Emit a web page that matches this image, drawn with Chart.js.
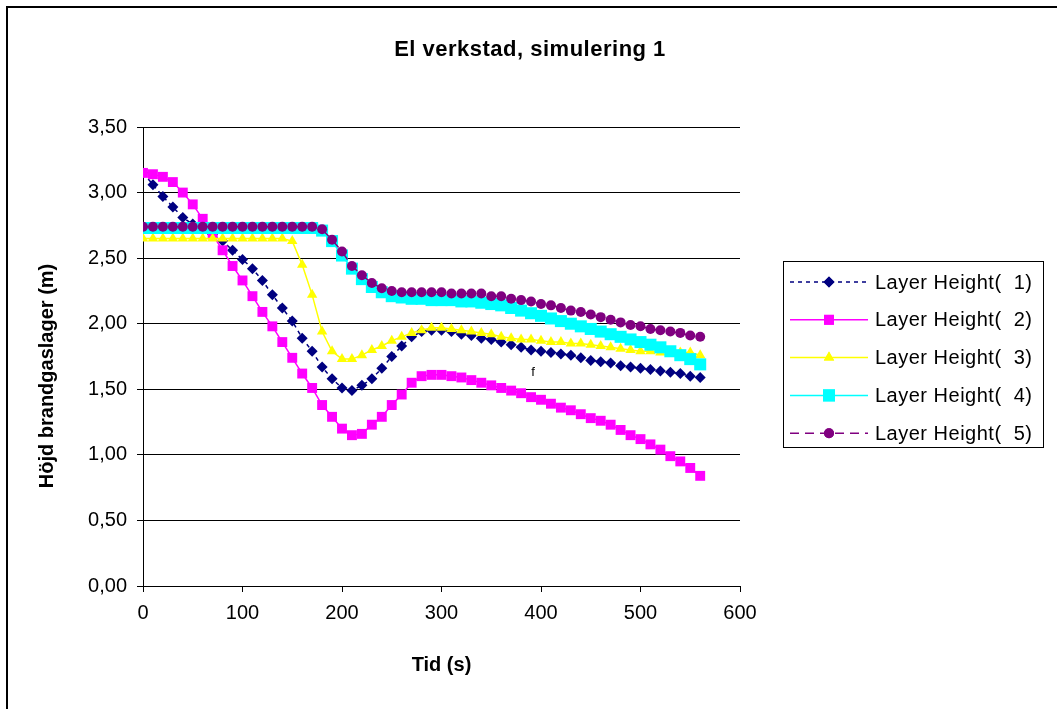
<!DOCTYPE html>
<html>
<head>
<meta charset="utf-8">
<script src="https://cdn.jsdelivr.net/npm/chart.js@4"></script>
<style>
  html, body { margin: 0; padding: 0; background: #fff; }
  #wrap { position: relative; width: 1057px; height: 709px; }
</style>
</head>
<body>
<div id="wrap"><canvas id="chart" width="1057" height="709"></canvas></div>
<script>
// Tid (s)
const times = [0, 10, 20, 30, 40, 50, 60, 70, 80, 90, 100, 110, 120, 130, 140, 150, 160, 170, 180, 190,
    200, 210, 220, 230, 240, 250, 260, 270, 280, 290, 300, 310, 320, 330, 340, 350, 360, 370, 380, 390,
    400, 410, 420, 430, 440, 450, 460, 470, 480, 490, 500, 510, 520, 530, 540, 550, 560];

const layer1 = [3.15, 3.06, 2.97, 2.89, 2.81, 2.76, 2.72, 2.68, 2.63, 2.56, 2.49, 2.42, 2.33, 2.22, 2.12, 2.02, 1.89, 1.79, 1.67, 1.58,
    1.51, 1.49, 1.53, 1.58, 1.66, 1.75, 1.83, 1.90, 1.94, 1.95, 1.95, 1.94, 1.92, 1.91, 1.89, 1.88, 1.86, 1.84, 1.82, 1.80,
    1.79, 1.78, 1.77, 1.76, 1.74, 1.72, 1.71, 1.70, 1.68, 1.67, 1.66, 1.65, 1.64, 1.63, 1.62, 1.60, 1.59];
const layer2 = [3.15, 3.14, 3.12, 3.08, 3.00, 2.91, 2.80, 2.68, 2.56, 2.44, 2.33, 2.21, 2.09, 1.98, 1.86, 1.74, 1.62, 1.51, 1.38, 1.29,
    1.20, 1.15, 1.16, 1.23, 1.29, 1.38, 1.46, 1.55, 1.60, 1.61, 1.61, 1.60, 1.59, 1.57, 1.55, 1.53, 1.51, 1.49, 1.47, 1.44,
    1.42, 1.39, 1.36, 1.34, 1.31, 1.28, 1.26, 1.23, 1.19, 1.15, 1.12, 1.08, 1.04, 0.99, 0.95, 0.90, 0.84];
const layer3 = [2.65, 2.65, 2.65, 2.65, 2.65, 2.65, 2.65, 2.65, 2.65, 2.65, 2.65, 2.65, 2.65, 2.65, 2.65, 2.63, 2.45, 2.22, 1.94, 1.79,
    1.73, 1.73, 1.76, 1.80, 1.83, 1.87, 1.90, 1.93, 1.95, 1.97, 1.97, 1.96, 1.95, 1.94, 1.93, 1.92, 1.90, 1.89, 1.88, 1.88,
    1.87, 1.86, 1.86, 1.85, 1.85, 1.84, 1.83, 1.82, 1.81, 1.80, 1.79, 1.79, 1.78, 1.78, 1.78, 1.78, 1.76];
const layer4 = [2.73, 2.73, 2.73, 2.73, 2.73, 2.73, 2.73, 2.73, 2.73, 2.73, 2.73, 2.73, 2.73, 2.73, 2.73, 2.73, 2.73, 2.73, 2.71, 2.63,
    2.52, 2.42, 2.34, 2.28, 2.24, 2.21, 2.20, 2.19, 2.19, 2.18, 2.18, 2.18, 2.17, 2.17, 2.16, 2.15, 2.14, 2.12, 2.10, 2.08,
    2.06, 2.04, 2.02, 2.00, 1.98, 1.96, 1.94, 1.92, 1.90, 1.88, 1.86, 1.84, 1.82, 1.79, 1.76, 1.73, 1.69];
const layer5 = [2.74, 2.74, 2.74, 2.74, 2.74, 2.74, 2.74, 2.74, 2.74, 2.74, 2.74, 2.74, 2.74, 2.74, 2.74, 2.74, 2.74, 2.74, 2.72, 2.64,
    2.55, 2.44, 2.37, 2.31, 2.27, 2.25, 2.24, 2.24, 2.24, 2.24, 2.24, 2.23, 2.23, 2.23, 2.23, 2.21, 2.21, 2.19, 2.18, 2.17,
    2.15, 2.14, 2.12, 2.10, 2.09, 2.07, 2.05, 2.03, 2.01, 1.99, 1.98, 1.96, 1.95, 1.94, 1.93, 1.91, 1.90];

const seriesLabels = ['Layer Height(  1)', 'Layer Height(  2)', 'Layer Height(  3)', 'Layer Height(  4)', 'Layer Height(  5)'];
const seriesValues = [layer1, layer2, layer3, layer4, layer5];

const chartTitle = 'El verkstad, simulering 1';
const xTitle = 'Tid (s)';
const yTitle = 'Höjd brandgaslager (m)';
const strayLabel = { t: 392, v: 1.63, text: 'f' };

const FONT = 'Arial, "Liberation Sans", sans-serif';

const styles = [
    { color: '#000080', pointStyle: 'rectRot', radius: 5.5, dash: [4, 4] },
    { color: '#FF00FF', pointStyle: 'rect', radius: 7, dash: [] },
    { color: '#FFFF00', pointStyle: 'triangle', radius: 6, dash: [] },
    { color: '#00FFFF', pointStyle: 'rect', radius: 8.5, dash: [] },
    { color: '#800080', pointStyle: 'circle', radius: 5, dash: [9, 6] }
];

const datasets = seriesValues.map((vals, i) => ({
    label: seriesLabels[i],
    data: vals.map((v, j) => ({ x: times[j], y: v })),
    borderColor: styles[i].color,
    backgroundColor: styles[i].color,
    borderWidth: 1.5,
    borderDash: styles[i].dash,
    pointStyle: styles[i].pointStyle,
    pointRadius: styles[i].radius,
    pointBorderWidth: 0,
    pointBackgroundColor: styles[i].color,
    tension: 0,
    order: 5 - i // Excel ritar senare serier ovanpå
}));

// Ram, titlar, legend och det lösa "f"
const decor = {
    id: 'decor',
    beforeDraw(chart) {
        const ctx = chart.ctx;
        ctx.save();
        ctx.fillStyle = '#fff';
        ctx.fillRect(0, 0, chart.width, chart.height);
        ctx.fillStyle = '#000';
        ctx.fillRect(6, 6, chart.width - 6, 2);
        ctx.fillRect(6, 6, 2, chart.height - 6);
        ctx.restore();
    },
    afterDraw(chart) {
        const ctx = chart.ctx;
        ctx.save();
        ctx.fillStyle = '#000';
        ctx.font = 'bold 22px ' + FONT;
        ctx.letterSpacing = '0.5px';
        ctx.textAlign = 'center';
        ctx.textBaseline = 'middle';
        ctx.fillText(chartTitle, 530, 50);
        ctx.letterSpacing = '0px';

        // y-axelns titel, lite under mitten som i Excel
        ctx.save();
        ctx.translate(47, 376);
        ctx.rotate(-Math.PI / 2);
        ctx.font = 'bold 20px ' + FONT;
        ctx.fillText(yTitle, 0, 0);
        ctx.restore();

        // lösa "f"
        ctx.font = '13px ' + FONT;
        ctx.fillText(strayLabel.text, chart.scales.x.getPixelForValue(strayLabel.t), chart.scales.y.getPixelForValue(strayLabel.v));

        // legend
        const bx = 783.5, by = 261.5, bw = 260, bh = 186;
        ctx.strokeStyle = '#000';
        ctx.lineWidth = 1;
        ctx.strokeRect(bx, by, bw, bh);
        ctx.font = '20px ' + FONT;
        ctx.letterSpacing = '0.5px';
        ctx.textAlign = 'left';
        chart.data.datasets.forEach((ds, i) => {
            const y = 282 + i * 37.8;
            ctx.save();
            ctx.strokeStyle = ds.borderColor;
            ctx.lineWidth = 1.5;
            ctx.setLineDash(ds.borderDash);
            ctx.beginPath();
            ctx.moveTo(790, y);
            ctx.lineTo(868, y);
            ctx.stroke();
            ctx.setLineDash([]);
            ctx.fillStyle = ds.pointBackgroundColor;
            Chart.helpers.drawPoint(ctx, { pointStyle: ds.pointStyle, radius: ds.pointRadius, borderWidth: 0 }, 829, y);
            ctx.fill();
            ctx.restore();
            ctx.fillStyle = '#000';
            ctx.fillText(ds.label, 875, y + 1);
        });
        ctx.restore();
    }
};

new Chart(document.getElementById('chart'), {
    type: 'line',
    data: { datasets: datasets },
    options: {
        responsive: false,
        animation: false,
        layout: { padding: { left: 20, top: 127, right: 317, bottom: 8 } },
        plugins: {
            legend: { display: false },
            tooltip: { enabled: false }
        },
        scales: {
            x: {
                type: 'linear',
                min: 0,
                max: 600,
                ticks: { stepSize: 100, color: '#000', font: { family: FONT, size: 20 }, padding: 9, maxRotation: 0 },
                grid: { drawOnChartArea: false, drawTicks: true, tickLength: 6, color: '#000' },
                border: { color: '#000', width: 1 },
                title: { display: true, text: xTitle, color: '#000', font: { family: FONT, size: 20, weight: 'bold' }, padding: { top: 0, bottom: 24 } },
                afterFit(scale) { scale.height = 115; }
            },
            y: {
                min: 0,
                max: 3.5,
                ticks: {
                    stepSize: 0.5,
                    color: '#000',
                    font: { family: FONT, size: 20 },
                    padding: 10,
                    callback: v => v.toFixed(2).replace('.', ',')
                },
                grid: { color: '#000', lineWidth: 1, tickLength: 6 },
                border: { color: '#000', width: 1 },
                afterFit(scale) { scale.width = 123; }
            }
        }
    },
    plugins: [decor]
});
</script>
</body>
</html>
